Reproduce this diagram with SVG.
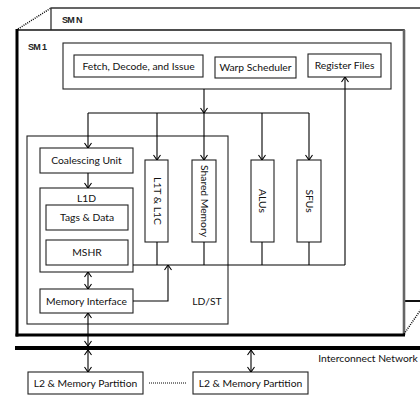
<svg xmlns="http://www.w3.org/2000/svg" width="420" height="396" viewBox="0 0 420 396">
<style>
.box{fill:#fff;stroke:#222;stroke-width:1.1}
.t{font-family:Lato,"Liberation Sans",sans-serif;font-size:10.3px;fill:#111;text-anchor:middle}
.b{font-family:"Liberation Sans",sans-serif;font-size:9px;font-weight:bold;fill:#222;letter-spacing:-0.7px}
.ln{fill:none;stroke:#000;stroke-width:1.1}
.dot{fill:none;stroke:#000;stroke-width:1.5;stroke-dasharray:1,1.2}
</style>
<defs>
<marker id="a" viewBox="0 0 8 8" refX="8" refY="4" markerWidth="8" markerHeight="8" markerUnits="userSpaceOnUse" orient="auto-start-reverse">
<path d="M3,0.5 L8,4 L3,7.5" fill="none" stroke="#000" stroke-width="1.1"/>
</marker>
</defs>
<rect width="420" height="396" fill="#fff"/>
<g id="smn">
<path d="M51,30 V8 H420" fill="none" stroke="#333" stroke-width="1.3"/>
<line x1="404" y1="301" x2="420" y2="301" stroke="#111" stroke-width="2"/>
<text class="b" x="62" y="23">SM N</text>
</g>
<g id="sm1">
<rect x="17" y="30" width="387" height="305" fill="#fff" stroke="#222" stroke-width="1.6"/>
<line x1="404" y1="30" x2="404" y2="335" stroke="#666" stroke-width="2.6"/>
<line x1="17" y1="29" x2="17" y2="336.5" stroke="#000" stroke-width="3"/>
<line x1="15.5" y1="335" x2="405" y2="335" stroke="#000" stroke-width="3"/>
<text class="b" x="28" y="50">SM 1</text>
</g>
<g id="dots">
<line class="dot" x1="18" y1="29" x2="51" y2="8"/>
<line class="dot" x1="404" y1="334" x2="424" y2="305"/>
</g>
<g id="front">
<rect class="box" x="63" y="43" width="328" height="46"/>
</g>
<g id="fetch"><rect class="box" x="74" y="55" width="129" height="22"/><text class="t" x="138.5" y="70">Fetch, Decode, and Issue</text></g>
<g id="warp"><rect class="box" x="215" y="57" width="81" height="21"/><text class="t" x="255.5" y="71">Warp Scheduler</text></g>
<g id="regfile"><rect class="box" x="308" y="54" width="73" height="23"/><text class="t" x="344.5" y="69">Register Files</text></g>
<g id="ldst"><rect class="box" x="27" y="136" width="201" height="188"/><text class="t" x="207" y="305">LD/ST</text></g>
<g id="coal"><rect class="box" x="40" y="148" width="93" height="25"/><text class="t" x="86.5" y="164">Coalescing Unit</text></g>
<g id="l1d"><rect class="box" x="40" y="188" width="93" height="84"/><text class="t" x="86.5" y="202">L1D</text></g>
<g id="tags"><rect class="box" x="46" y="205" width="82" height="25"/><text class="t" x="87" y="221">Tags &amp; Data</text></g>
<g id="mshr"><rect class="box" x="46" y="240" width="82" height="25"/><text class="t" x="87" y="256">MSHR</text></g>
<g id="memif"><rect class="box" x="40" y="289" width="93" height="24"/><text class="t" x="86.5" y="304.5">Memory Interface</text></g>
<g id="l1t"><rect class="box" x="145" y="160" width="23" height="82"/><text class="t" transform="translate(153.5,201) rotate(90)">L1T &amp; L1C</text></g>
<g id="shmem"><rect class="box" x="192" y="160" width="24" height="82"/><text class="t" transform="translate(200.5,201) rotate(90)">Shared Memory</text></g>
<g id="alus"><rect class="box" x="251" y="160" width="23" height="82"/><text class="t" transform="translate(258.5,201) rotate(90)">ALUs</text></g>
<g id="sfus"><rect class="box" x="297" y="160" width="24" height="82"/><text class="t" transform="translate(305.5,201) rotate(90)">SFUs</text></g>
<g id="icnt">
<line x1="15" y1="348" x2="420" y2="348" stroke="#000" stroke-width="4"/>
<text class="t" x="368" y="362">Interconnect Network</text>
</g>
<g id="l2a"><rect class="box" x="28" y="372" width="115" height="22"/><text class="t" x="85.5" y="387">L2 &amp; Memory Partition</text></g>
<g id="l2b"><rect class="box" x="193" y="372" width="115" height="22"/><text class="t" x="250.5" y="387">L2 &amp; Memory Partition</text></g>
<g id="connectors">
<line class="ln" x1="204" y1="89" x2="204" y2="113" marker-end="url(#a)"/>
<line class="ln" x1="88" y1="113" x2="309" y2="113"/>
<line class="ln" x1="88" y1="113" x2="88" y2="148" marker-end="url(#a)"/>
<line class="ln" x1="157" y1="113" x2="157" y2="160" marker-end="url(#a)"/>
<line class="ln" x1="204" y1="113" x2="204" y2="160" marker-end="url(#a)"/>
<line class="ln" x1="262" y1="113" x2="262" y2="160" marker-end="url(#a)"/>
<line class="ln" x1="309" y1="113" x2="309" y2="160" marker-end="url(#a)"/>
<line class="ln" x1="88" y1="173" x2="88" y2="188" marker-end="url(#a)"/>
<line class="ln" x1="88" y1="272" x2="88" y2="289" marker-start="url(#a)" marker-end="url(#a)"/>
<line class="ln" x1="88" y1="313" x2="88" y2="346" marker-start="url(#a)" marker-end="url(#a)"/>
<line class="ln" x1="88" y1="350" x2="88" y2="372" marker-start="url(#a)" marker-end="url(#a)"/>
<line class="ln" x1="251" y1="350" x2="251" y2="372" marker-start="url(#a)" marker-end="url(#a)"/>
<path class="ln" d="M133,301 H168 V265" marker-end="url(#a)"/>
<line class="ln" x1="133" y1="265" x2="345" y2="265"/>
<line class="ln" x1="157" y1="242" x2="157" y2="265"/>
<line class="ln" x1="204" y1="242" x2="204" y2="265"/>
<line class="ln" x1="262" y1="242" x2="262" y2="265"/>
<line class="ln" x1="309" y1="242" x2="309" y2="265"/>
<line class="ln" x1="345" y1="265" x2="345" y2="77" marker-end="url(#a)"/>
<line x1="149" y1="383" x2="186" y2="383" stroke="#000" stroke-width="1" stroke-dasharray="1,1"/>
</g>
</svg>
